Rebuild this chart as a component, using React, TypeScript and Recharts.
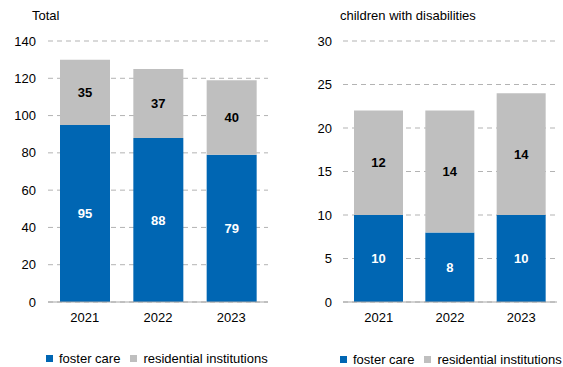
import { Bar, BarChart, CartesianGrid, LabelList, Legend, XAxis, YAxis } from "recharts"

const years = ["2021", "2022", "2023"]

const totalFoster = [95, 88, 79]
const totalResidential = [35, 37, 40]
const totalTicks = [0, 20, 40, 60, 80, 100, 120, 140]

const disabledFoster = [10, 8, 10]
const disabledResidential = [12, 14, 14]
const disabledTicks = [0, 5, 10, 15, 20, 25, 30]

const seriesNames = { foster: "foster care", residential: "residential institutions" }

const BLUE = "#0066b3"
const GREY = "#bfbfbf"
const FONT = "'Liberation Sans', Arial, sans-serif"

const buildRows = (foster: number[], residential: number[]) =>
  years.map((year, i) => ({ year, foster: foster[i], residential: residential[i] }))

const SquareLegend = (props: any) => {
  const items = props.payload || []
  return (
    <div
      style={{
        display: "flex",
        alignItems: "center",
        whiteSpace: "nowrap",
        height: 15,
        fontFamily: FONT,
        fontSize: 13,
        color: "#000",
        lineHeight: "15px",
      }}
    >
      {items.map((item: any, i: number) => (
        <div key={item.value} style={{ display: "flex", alignItems: "center", marginRight: i < items.length - 1 ? 10 : 0 }}>
          <span style={{ width: 7, height: 7, background: item.color, marginRight: 6, display: "inline-block" }} />
          <span>{item.value}</span>
        </div>
      ))}
    </div>
  )
}

interface PanelProps {
  foster: number[]
  residential: number[]
  ticks: number[]
  width: number
  yWidth: number
  tickMargin: number
  rightMargin: number
  barSize: number
  legendLeft: number
  legendTop: number
}

function Panel({ foster, residential, ticks, width, yWidth, tickMargin, rightMargin, barSize, legendLeft, legendTop }: PanelProps) {
  const rows = buildRows(foster, residential)
  return (
    <BarChart
      width={width}
      height={367}
      data={rows}
      margin={{ top: 41, right: rightMargin, left: 0, bottom: 20 }}
      style={{ fontFamily: FONT }}
    >
      <CartesianGrid vertical={false} stroke="#b3b3b3" strokeDasharray="5 4" />
      <XAxis
        dataKey="year"
        tickLine={false}
        axisLine={{ stroke: "#a6a6a6" }}
        tick={{ fill: "#000", fontSize: 13 }}
        tickMargin={5}
        height={30}
      />
      <YAxis
        width={yWidth}
        domain={[0, ticks[ticks.length - 1]]}
        ticks={ticks}
        interval={0}
        tickLine={false}
        axisLine={false}
        tick={{ fill: "#000", fontSize: 13 }}
        tickMargin={tickMargin}
      />
      <Legend
        content={<SquareLegend />}
        verticalAlign="bottom"
        wrapperStyle={{ left: legendLeft, top: legendTop, width: width - legendLeft }}
      />
      <Bar dataKey="foster" name={seriesNames.foster} stackId="a" fill={BLUE} barSize={barSize} isAnimationActive={false}>
        <LabelList dataKey="foster" position="center" fill="#fff" fontSize={13} fontWeight="bold" />
      </Bar>
      <Bar dataKey="residential" name={seriesNames.residential} stackId="a" fill={GREY} barSize={barSize} isAnimationActive={false}>
        <LabelList dataKey="residential" position="center" fill="#000" fontSize={13} fontWeight="bold" />
      </Bar>
    </BarChart>
  )
}

export default function App() {
  return (
    <div style={{ position: "absolute", left: 0, top: 0, width: 563, height: 367, background: "#fff", fontFamily: FONT }}>
      <div style={{ position: "absolute", left: 32, top: 8, fontSize: 13, lineHeight: "15px", color: "#000" }}>Total</div>
      <div style={{ position: "absolute", left: 340, top: 8, fontSize: 13, lineHeight: "15px", color: "#000" }}>
        children with disabilities
      </div>
      <div style={{ position: "absolute", left: 0, top: 0 }}>
        <Panel
          foster={totalFoster}
          residential={totalResidential}
          ticks={totalTicks}
          width={285}
          yWidth={48}
          tickMargin={6}
          rightMargin={17}
          barSize={50}
          legendLeft={46}
          legendTop={351}
        />
      </div>
      <div style={{ position: "absolute", left: 280, top: 0 }}>
        <Panel
          foster={disabledFoster}
          residential={disabledResidential}
          ticks={disabledTicks}
          width={283}
          yWidth={63}
          tickMargin={5}
          rightMargin={6}
          barSize={49}
          legendLeft={60}
          legendTop={352}
        />
      </div>
    </div>
  )
}
